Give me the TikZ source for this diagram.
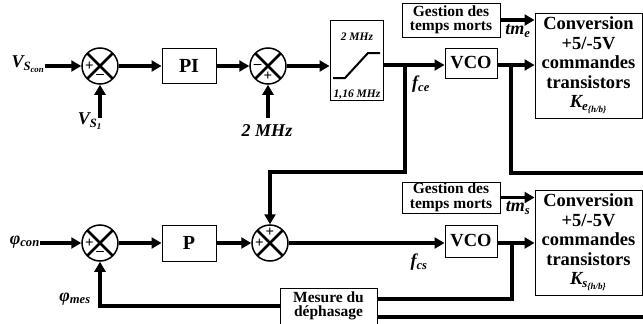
\documentclass[tikz,border=0pt]{standalone}
\usepackage{fontspec}
\setmainfont{Liberation Serif}
\usetikzlibrary{arrows.meta,calc}
\begin{document}
\begin{tikzpicture}[x=1pt,y=-1pt,
 sig/.style={line width=3.5pt},
 arr/.style={line width=3.5pt,-{Triangle[length=10pt,width=11pt]}},
 blk/.style={draw,line width=1pt,align=center,inner sep=0pt,font=\bfseries},
 sumj/.style={circle,draw,line width=1.5pt,minimum size=36pt,inner sep=0pt,
   path picture={\draw[line width=2.5pt] (path picture bounding box.north west) -- (path picture bounding box.south east)
   (path picture bounding box.north east) -- (path picture bounding box.south west);}},
 sgn/.style={font=\fontsize{15}{15}\selectfont\bfseries,inner sep=0pt},
 lbl/.style={font=\fontsize{18}{18}\selectfont\bfseries\itshape,inner sep=0pt},
 small/.style={font=\fontsize{11.5}{12}\selectfont\bfseries\itshape,inner sep=0pt},
 big/.style={font=\fontsize{18.5}{19.5}\selectfont\bfseries},
 mid/.style={font=\fontsize{15.5}{14.5}\selectfont\bfseries}
]
\useasboundingbox[fill=white] (0,0) rectangle (643,324);

% ---------- top loop ----------
\node[sumj] (s1) at (100,66) {};
\node[sgn] (s1a) at (89.5,66) {+};
\node[sgn] (s1b) at (100,76.5) {–};
\node[blk,minimum width=54pt,minimum height=35pt,font=\fontsize{20}{20}\selectfont\bfseries] (pi) at (189,66) {PI};
\node[sumj] (s2) at (268,66) {};
\node[sgn] (s2a) at (257.5,66) {–};
\node[sgn] (s2b) at (268,76.5) {+};
\node[blk,minimum width=53pt,minimum height=80pt] (lim) at (356.5,60) {};
\node[small] (limt) at (357,37) {2 MHz};
\node[small] (limb) at (357,95) {1,16 MHz};
\draw[line width=2pt] (333,78) -- (345,78) -- (368,53) -- (380,53);
\node[blk,big,minimum width=52pt,minimum height=30pt] (vco1) at (471,63) {VCO};
\node[blk,mid,minimum width=98pt,minimum height=34pt] (ges1) at (451,20) {Gestion des\\temps morts};
\node[blk,big,minimum width=107pt,minimum height=105pt] (conv1) at (588.5,65.5)
  {Conversion\\+5/-5V\\commandes\\transistors\\\textit{K\textsubscript{e\textsubscript{\{h/b\}}}}};

\node[lbl,anchor=east] (vscon) at (45,64) {V\textsubscript{S\textsubscript{con}}};
\node[lbl] (vs1) at (90,121) {V\textsubscript{S\textsubscript{1}}};
\node[lbl] (mhz) at (267,131) {2 MHz};
\node[lbl] (fce) at (421,84) {f\textsubscript{ce}};
\node[lbl] (tme) at (518,31) {tm\textsubscript{e}};

\coordinate (c1) at (100,118);
\coordinate (c2) at (268,118);
\coordinate (j1) at (405,65);
\coordinate (k1) at (405,172);
\coordinate (j2) at (511,65);
\coordinate (e1) at (646,173);

\draw[arr] (vscon.east |- s1) -- (s1.west);
\draw[arr] (c1) -- (s1.south);
\draw[arr] (s1.east) -- (pi.west);
\draw[arr] (pi.east) -- (s2.west);
\draw[arr] (c2) -- (s2.south);
\draw[arr] (s2.east) -- (s2.east -| lim.west);
\draw[arr] (lim.east |- j1) -- (vco1.west |- j1);
\draw[arr] (vco1.east |- j2) -- (conv1.west |- j2);
\draw[arr] (ges1.east) -- (conv1.west |- ges1.east);
\draw[sig] (j2) |- (e1);

% ---------- bottom loop ----------
\node[sumj] (s3) at (100,243) {};
\node[sgn] (s3a) at (89.5,243) {+};
\node[sgn] (s3b) at (100,253.5) {–};
\node[blk,minimum width=54pt,minimum height=36pt,font=\fontsize{20}{20}\selectfont\bfseries] (p) at (189,243) {P};
\node[sumj] (s4) at (270,243) {};
\node[sgn] (s4a) at (259.5,243) {+};
\node[sgn] (s4b) at (270,232.5) {+};
\node[blk,big,minimum width=52pt,minimum height=32pt] (vco2) at (471,241) {VCO};
\node[blk,mid,minimum width=98pt,minimum height=31pt] (ges2) at (451,197.5) {Gestion des\\temps morts};
\node[blk,big,minimum width=107pt,minimum height=105pt] (conv2) at (588.5,242.5)
  {Conversion\\+5/-5V\\commandes\\transistors\\\textit{K\textsubscript{s\textsubscript{\{h/b\}}}}};
\node[blk,mid,minimum width=97pt,minimum height=36pt] (mes) at (328.5,306) {Mesure du\\déphasage};

\node[lbl,anchor=east] (phicon) at (40,242) {φ\textsubscript{con}};
\node[lbl] (phimes) at (75,299) {φ\textsubscript{mes}};
\node[lbl] (fcs) at (419,262) {f\textsubscript{cs}};
\node[lbl] (tms) at (518,208) {tm\textsubscript{s}};

\coordinate (j3) at (512,243);
\coordinate (mi1) at ($(mes.east)+(0,-7)$);
\coordinate (mi2) at ($(mes.east)+(0,11)$);
\coordinate (e2) at (646,317);

\draw[arr] (j1) -- (k1) -| (s4.north);
\draw[arr] (phicon.east |- s3) -- (s3.west);
\draw[arr] (s3.east) -- (p.west);
\draw[arr] (p.east) -- (s4.west);
\draw[arr] (s4.east) -- (vco2.west |- s4.east);
\draw[arr] (vco2.east |- j3) -- (conv2.west |- j3);
\draw[arr] (ges2.east) -- (conv2.west |- ges2.east);
\draw[sig] (j3) |- (mi1);
\draw[sig] (e2) -- (mi2);
\draw[arr] (mes.west) -| (s3.south);
\end{tikzpicture}
\end{document}
